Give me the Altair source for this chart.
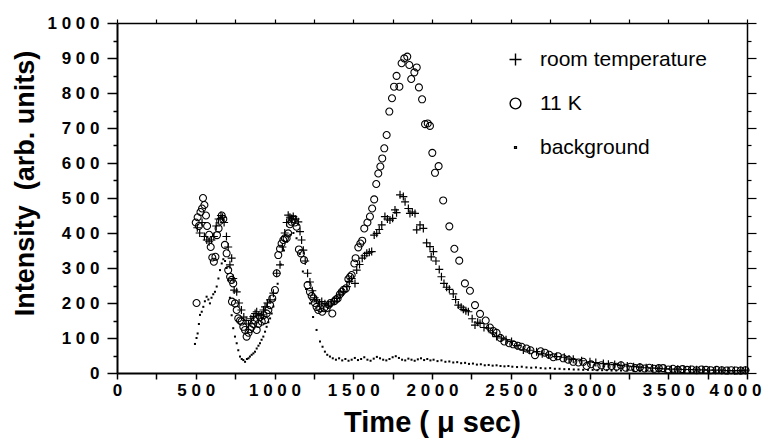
import altair as alt
import pandas as pd

# ---------------- data ----------------
rt_t = [510, 525, 540, 555, 570, 585, 600, 615, 630, 645, 660, 670, 680, 695, 706, 717, 728, 738, 744, 760,
        775, 790, 805, 820, 835, 850, 866, 877, 887, 900, 919, 930, 940, 955, 972, 993, 1014, 1035, 1050, 1065,
        1077, 1087, 1098, 1108, 1119, 1135, 1151, 1162, 1172, 1183, 1195, 1210, 1225, 1240, 1255, 1267, 1285, 1300, 1320, 1342,
        1360, 1380, 1395, 1415, 1437, 1459, 1475, 1490, 1511, 1522, 1540, 1557, 1572, 1586, 1602, 1617, 1633, 1649, 1665, 1681,
        1701, 1717, 1733, 1750, 1765, 1775, 1797, 1818, 1829, 1850, 1860, 1875, 1892, 1903, 1924, 1945, 1966, 1987, 1995, 2009,
        2025, 2046, 2060, 2076, 2093, 2110, 2135, 2150, 2167, 2185, 2199, 2215, 2231, 2255, 2273, 2290, 2305, 2330, 2358, 2385,
        2410, 2440, 2470, 2505, 2540, 2580, 2620, 2664, 2700, 2740, 2791, 2840, 2870, 2897, 2950, 3003, 3040, 3088, 3120, 3160,
        3200, 3240, 3280, 3320, 3360, 3400, 3440, 3480, 3520, 3560, 3600, 3640, 3680, 3720, 3760, 3800, 3840, 3880, 3920, 3960,
        3990]
rt_i = [415, 400, 430, 390, 380, 375, 380, 390, 420, 440, 450, 445, 430, 390, 360, 309, 328, 270, 237, 232,
        200, 180, 160, 150, 140, 155, 161, 170, 175, 165, 166, 180, 189, 200, 209, 228, 285, 309, 360, 400,
        430, 451, 445, 440, 447, 440, 432, 404, 380, 351, 320, 285, 260, 235, 215, 209, 200, 204, 198, 194,
        200, 205, 213, 225, 232, 247, 262, 270, 256, 294, 310, 328, 335, 342, 345, 347, 394, 399, 410, 423,
        447, 440, 437, 442, 466, 458, 509, 504, 489, 470, 456, 460, 456, 409, 423, 413, 372, 361, 332, 347,
        320, 296, 275, 256, 245, 239, 226, 210, 194, 188, 182, 178, 175, 155, 137, 145, 142, 130, 128, 115,
        104, 100, 95, 90, 78, 66, 65, 61, 55, 52, 47, 45, 40, 39, 35, 32, 30, 27, 25, 24,
        22, 20, 18, 17, 15, 14, 13, 12, 11, 11, 10, 10, 9, 9, 8, 8, 8, 7, 7, 7,
        8]

k11_t = [500, 505, 512, 520, 530, 540, 546, 555, 565, 572, 585, 595, 605, 615, 625, 635, 645, 655, 665, 675,
         685, 696, 706, 718, 728, 738, 730, 749, 760, 770, 781, 791, 802, 813, 823, 835, 845, 855, 865, 875,
         887, 897, 908, 919, 930, 940, 950, 961, 972, 986, 1003, 1014, 1024, 1035, 1045, 1056, 1066, 1077, 1087, 1098,
         1108, 1118, 1130, 1140, 1155, 1168, 1187, 1210, 1225, 1236, 1247, 1257, 1267, 1278, 1290, 1303, 1315, 1331, 1345, 1355,
         1367, 1380, 1390, 1401, 1415, 1427, 1440, 1454, 1469, 1480, 1490, 1507, 1515, 1532, 1545, 1557, 1570, 1590, 1606, 1620,
         1633, 1646, 1659, 1672, 1684, 1697, 1712, 1729, 1746, 1759, 1775, 1793, 1807, 1824, 1843, 1856, 1868, 1888, 1903, 1917,
         1937, 1956, 1973, 1987, 2002, 2019, 2042, 2071, 2110, 2142, 2173, 2209, 2241, 2273, 2305, 2341, 2368, 2390, 2410, 2435,
         2459, 2490, 2516, 2545, 2569, 2600, 2625, 2654, 2690, 2717, 2745, 2770, 2800, 2834, 2865, 2897, 2930, 2960, 2982, 3010,
         3045, 3075, 3108, 3140, 3172, 3200, 3230, 3260, 3290, 3320, 3350, 3380, 3410, 3440, 3467, 3500, 3530, 3560, 3590, 3620,
         3650, 3680, 3710, 3740, 3770, 3807, 3840, 3870, 3900, 3930, 3960, 3990]
k11_i = [430, 200, 445, 420, 460, 470, 500, 480, 450, 420, 395, 360, 330, 318, 332, 394, 413, 435, 450, 440,
         366, 342, 294, 275, 266, 256, 204, 199, 180, 156, 150, 147, 132, 123, 104, 115, 125, 132, 140, 150,
         123, 140, 160, 147, 165, 151, 170, 180, 194, 213, 237, 285, 337, 355, 370, 380, 385, 385, 399, 425,
         432, 440, 430, 418, 353, 342, 323, 251, 232, 220, 213, 200, 189, 180, 185, 175, 185, 185, 195, 200,
         170, 205, 210, 213, 225, 232, 238, 242, 268, 275, 280, 313, 328, 359, 370, 378, 413, 430, 447, 470,
         496, 540, 570, 590, 613, 642, 680, 747, 785, 818, 849, 818, 885, 899, 904, 880, 840, 859, 873, 816,
         782, 711, 713, 706, 629, 572, 591, 493, 419, 355, 321, 256, 235, 194, 169, 150, 130, 120, 115, 100,
         90, 85, 82, 78, 75, 70, 65, 51, 62, 58, 52, 45, 48, 42, 38, 32, 30, 32, 20, 25,
         18, 22, 18, 20, 18, 22, 15, 18, 14, 16, 13, 15, 12, 14, 14, 10, 12, 9, 11, 9,
         10, 8, 10, 9, 8, 9, 8, 7, 8, 7, 7, 8]

bg_t = [495, 505, 512, 520, 527, 538, 548, 558, 569, 580, 590, 600, 611, 622, 633, 644, 654, 665, 675, 686,
        696, 706, 717, 728, 738, 749, 760, 770, 781, 792, 802, 813, 825, 835, 844, 855, 866, 876, 887, 898,
        908, 918, 929, 940, 950, 961, 972, 982, 993, 1003, 1020, 1040, 1060, 1080, 1100, 1120, 1140, 1160, 1180, 1200,
        1225, 1245, 1267, 1289, 1305, 1320, 1335, 1352, 1370, 1390, 1410, 1430, 1450, 1470, 1490, 1510, 1530, 1550, 1570, 1590,
        1610, 1630, 1650, 1670, 1690, 1710, 1730, 1750, 1770, 1790, 1810, 1830, 1850, 1870, 1890, 1910, 1930, 1950, 1970, 1990,
        2010, 2035, 2060, 2085, 2110, 2135, 2160, 2185, 2210, 2235, 2260, 2285, 2310, 2335, 2360, 2385, 2410, 2435, 2460, 2485,
        2510, 2540, 2570, 2600, 2630, 2660, 2690, 2720, 2750, 2780, 2810, 2840, 2870, 2900, 2930, 2960, 2990, 3020, 3050, 3080,
        3110, 3140, 3170, 3200, 3240, 3280, 3320, 3360, 3400, 3440, 3480, 3520, 3560, 3600, 3640, 3680, 3720, 3760, 3800, 3840,
        3880, 3920, 3960, 3990]
bg_i = [83, 100, 113, 140, 166, 175, 189, 205, 218, 210, 199, 215, 225, 232, 247, 270, 294, 313, 325, 320,
        300, 265, 215, 165, 128, 104, 85, 65, 47, 40, 37, 32, 40, 42, 47, 52, 56, 61, 70, 78,
        85, 95, 104, 118, 132, 145, 156, 170, 190, 210, 255, 310, 350, 375, 395, 400, 385, 340, 290, 240,
        199, 160, 123, 90, 75, 61, 52, 47, 42, 38, 42, 36, 40, 35, 38, 43, 37, 40, 45, 38,
        35, 41, 46, 42, 38, 36, 40, 45, 48, 43, 38, 36, 41, 38, 35, 39, 42, 37, 40, 36,
        38, 34, 36, 32, 33, 30, 31, 28, 29, 26, 27, 24, 25, 22, 23, 21, 22, 20, 19, 20,
        18, 17, 18, 16, 15, 16, 14, 13, 14, 12, 12, 11, 11, 10, 10, 9, 9, 9, 8, 8,
        8, 7, 7, 7, 7, 6, 6, 6, 6, 5, 5, 5, 5, 5, 5, 4, 4, 4, 4, 4,
        4, 4, 4, 4]

series_names = ["room temperature", "11 K", "background"]

assert len(rt_t) == len(rt_i) and len(k11_t) == len(k11_i) and len(bg_t) == len(bg_i)

df_rt = pd.DataFrame({"t": rt_t, "I": rt_i, "series": series_names[0]})
df_k = pd.DataFrame({"t": k11_t, "I": k11_i, "series": series_names[1]})
df_bg = pd.DataFrame({"t": bg_t, "I": bg_i, "series": series_names[2]})

PLUS = "M-1,0H1M0,-1V1"
RING = "M-0.9,0A0.9,0.9,0,1,1,0.9,0A0.9,0.9,0,1,1,-0.9,0Z"
DOT = "M-0.15,-0.15H0.15V0.15H-0.15Z"

FONT = "Liberation Sans"

xscale = alt.Scale(domain=[0, 4000], nice=False, zero=False)
yscale = alt.Scale(domain=[0, 1000], nice=False)
shape_scale = alt.Scale(domain=series_names, range=[PLUS, RING, DOT])

legend = alt.Legend(
    orient="none", legendX=388, legendY=26, title=None, padding=0,
    labelFont=FONT, labelFontSize=21, labelFontWeight="normal", labelColor="black",
    labelLimit=400,
    symbolSize=144, symbolStrokeWidth=1.4, symbolStrokeColor="black",
    rowPadding=22, labelOffset=14,
)

spaced = "replace(format(datum.value, 'd'), regexp('(\\\\d)(?=\\\\d)', 'g'), '$1 ')"

x_bottom = alt.Axis(
    orient="bottom", values=list(range(0, 4001, 250)),
    labelExpr=f"datum.value % 500 === 0 ? {spaced} : ''",
    labelFont=FONT, labelFontSize=17, labelFontWeight="bold", labelColor="black",
    labelOffset={"condition": {"test": "datum.value === 4000", "value": -12}, "value": 0},
    labelPadding=3, tickSize=6, tickWidth=1.5, tickColor="black",
    domainColor="black", domainWidth=2, grid=False, labelFlush=False, labelOverlap=False,
    title="Time ( \u03bc sec)", titleFont=FONT, titleFontSize=29, titleFontWeight="bold",
    titleColor="black", titleBaseline="middle", titleY=49,
)
y_left = alt.Axis(
    orient="left", values=list(range(0, 1001, 50)),
    labelExpr=f"datum.value % 100 === 0 ? {spaced} : ''",
    labelFont=FONT, labelFontSize=17, labelFontWeight="bold", labelColor="black",
    labelPadding=8, tickWidth=1.5, tickColor="black",
    tickSize={"condition": {"test": "datum.value % 100 === 0", "value": 10}, "value": 4},
    domainColor="black", domainWidth=2, grid=False, labelFlush=False, labelOverlap=False,
    title="Intensity\u00a0 (arb. units)", titleFont=FONT, titleFontSize=27, titleFontWeight="bold",
    titleColor="black", titleBaseline="middle", titleX=-92, titleY=160,
)
x_top = alt.Axis(
    orient="top", values=list(range(0, 4001, 250)), labels=False, title=None,
    tickSize=4, tickWidth=1.2, tickColor="black", domainColor="black", domainWidth=1.5, grid=False,
)
y_right = alt.Axis(
    orient="right", values=list(range(0, 1001, 50)), labels=False, title=None,
    tickSize={"condition": {"test": "datum.value % 100 === 0", "value": 9}, "value": 4},
    tickWidth=1.2, tickColor="black", domainColor="black", domainWidth=1.5, grid=False,
)

def layer(df, size, sw, xaxis, yaxis):
    return alt.Chart(df).mark_point(filled=False, color="black", size=size, strokeWidth=sw, opacity=1).encode(
        x=alt.X("t:Q", scale=xscale, axis=xaxis),
        y=alt.Y("I:Q", scale=yscale, axis=yaxis),
        shape=alt.Shape("series:N", scale=shape_scale, legend=legend),
    )

c_rt = layer(df_rt, 64, 1.2, x_bottom, y_left)
c_k = layer(df_k, 60, 1.1, None, None)
c_bg = layer(df_bg, 30, 1.2, x_top, y_right)

chart = (
    alt.layer(c_rt, c_k, c_bg)
    .resolve_scale(x="shared", y="shared", shape="shared")
    .resolve_axis(x="independent", y="independent")
    .properties(
        width=630, height=350,
        autosize=alt.AutoSizeParams(type="none"),
        padding={"left": 109, "top": 15, "right": 19, "bottom": 66},
        background="white",
    )
    .configure_view(stroke=None)
    .configure(font=FONT)
)

chart.save("out.html", embed_options={"renderer": "svg", "actions": False})
